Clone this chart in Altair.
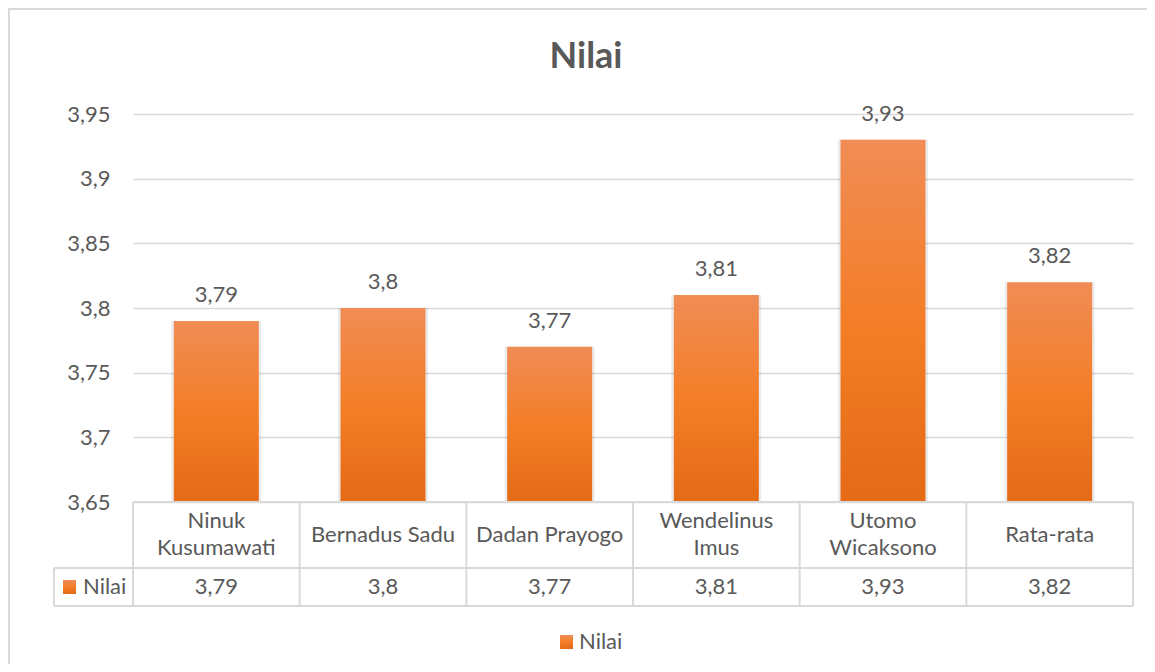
import altair as alt
import pandas as pd

categories = ["Ninuk Kusumawati", "Bernadus Sadu", "Dadan Prayogo",
              "Wendelinus Imus", "Utomo Wicaksono", "Rata-rata"]
category_lines = ["Ninuk\nKusumawati", "Bernadus Sadu", "Dadan Prayogo",
                  "Wendelinus\nImus", "Utomo\nWicaksono", "Rata-rata"]
values = [3.79, 3.8, 3.77, 3.81, 3.93, 3.82]
y_ticks = [3.65, 3.7, 3.75, 3.8, 3.85, 3.9, 3.95]
series_name = "Nilai"
title_text = "Nilai"

df = pd.DataFrame({
    "cat": categories,
    "label": category_lines,
    "value": values,
    "vlabel": [f"{v:g}".replace(".", ",") for v in values],
})
df["last"] = [i == len(categories) - 1 for i in range(len(categories))]
df["multi"] = ["\n" in s for s in category_lines]

FONT = "Lato"
TXT = "#595959"
GRID = "#D9D9D9"
W, H = 1000, 388
FS = 22

grad = alt.LinearGradient(
    gradient="linear", x1=0, x2=0, y1=0, y2=1,
    stops=[alt.GradientStop(color="#F08C55", offset=0),
           alt.GradientStop(color="#F47E28", offset=0.5),
           alt.GradientStop(color="#E46A16", offset=1)])

xs = alt.Scale(domain=categories, paddingInner=0, paddingOuter=0)
ys = alt.Scale(domain=[3.65, 3.95], zero=False, nice=False)

base = alt.Chart(df)

yaxis = alt.Axis(values=y_ticks, grid=True, gridColor=GRID, gridWidth=1.5,
                 ticks=False, domain=False, labelFont=FONT, labelFontSize=FS,
                 labelColor=TXT, labelPadding=23,
                 labelExpr="replace(format(datum.value, '.2~f'), '.', ',')",
                 title=None)

shadow = base.mark_bar(size=90, color="#000000", opacity=0.08).encode(
    x=alt.X("cat:N", scale=xs, axis=None, sort=categories),
    y=alt.Y("value:Q", scale=ys, axis=yaxis),
    y2=alt.datum(3.65),
)
bars = base.mark_bar(size=85, color=grad).encode(
    x=alt.X("cat:N", scale=xs, axis=None, sort=categories),
    y=alt.Y("value:Q", scale=ys, axis=yaxis),
    y2=alt.datum(3.65),
)
bar_labels = base.mark_text(font=FONT, fontSize=FS, color=TXT, baseline="bottom", dy=-14).encode(
    x=alt.X("cat:N", scale=xs, sort=categories),
    y=alt.Y("value:Q", scale=ys),
    text="vlabel:N",
)

# data table below the plot
tbl_line = dict(color=GRID, strokeWidth=2)
vlines = base.mark_rule(**tbl_line).encode(
    x=alt.X("cat:N", scale=xs, sort=categories, bandPosition=0),
    y=alt.value(388), y2=alt.value(492),
)
vline_end = base.transform_filter("datum.last").mark_rule(**tbl_line).encode(
    x=alt.X("cat:N", scale=xs, sort=categories, bandPosition=1),
    y=alt.value(388), y2=alt.value(492),
)
hlines = alt.Chart(pd.DataFrame({"y": [388, 454, 492], "x0": [0, -79, -79]})).mark_rule(**tbl_line).encode(
    x=alt.X("x0:Q", scale=None), x2=alt.value(W), y=alt.Y("y:Q", scale=None),
)
first_col = alt.Chart(pd.DataFrame({"x": [-79]})).mark_rule(**tbl_line).encode(
    x=alt.X("x:Q", scale=None), y=alt.value(454), y2=alt.value(492),
)
cat_text_single = base.transform_filter("!datum.multi").mark_text(
    font=FONT, fontSize=FS, color=TXT, baseline="middle").encode(
    x=alt.X("cat:N", scale=xs, sort=categories),
    y=alt.value(421),
    text="label:N",
)
cat_text_multi = base.transform_filter("datum.multi").mark_text(
    font=FONT, fontSize=FS, color=TXT, baseline="middle",
    lineBreak="\n", lineHeight=27).encode(
    x=alt.X("cat:N", scale=xs, sort=categories),
    y=alt.value(407),
    text="label:N",
)
val_text = base.mark_text(font=FONT, fontSize=FS, color=TXT, baseline="middle").encode(
    x=alt.X("cat:N", scale=xs, sort=categories),
    y=alt.value(473),
    text="vlabel:N",
)

leg = pd.DataFrame({"name": [series_name]})
tbl_key = alt.Chart(leg).mark_rect(color=grad).encode(
    x=alt.value(-70), x2=alt.value(-57), y=alt.value(466), y2=alt.value(480))
tbl_key_text = alt.Chart(leg).mark_text(font=FONT, fontSize=FS, color=TXT, align="left",
                                        baseline="middle").encode(
    x=alt.value(-50), y=alt.value(473), text="name:N")
leg_key = alt.Chart(leg).mark_rect(color=grad).encode(
    x=alt.value(427), x2=alt.value(440), y=alt.value(521), y2=alt.value(535))
leg_text = alt.Chart(leg).mark_text(font=FONT, fontSize=FS, color=TXT, align="left",
                                    baseline="middle").encode(
    x=alt.value(446), y=alt.value(528), text="name:N")

title = alt.Chart(pd.DataFrame({"t": [title_text]})).mark_text(
    font=FONT, fontSize=36, fontWeight="bold", color=TXT, baseline="middle").encode(
    x=alt.value(453), y=alt.value(-57), text="t:N")

border = alt.Chart(pd.DataFrame({"b": [1]})).mark_rect(
    fillOpacity=0, stroke=GRID, strokeWidth=2).encode(
    x=alt.value(-124), x2=alt.value(1040), y=alt.value(-105), y2=alt.value(580))

chart = alt.layer(
    border, shadow, bars, bar_labels, vlines, vline_end, hlines, first_col,
    cat_text_single, cat_text_multi, val_text, tbl_key, tbl_key_text,
    leg_key, leg_text, title,
).properties(
    width=W, height=H,
    autosize=alt.AutoSizeParams(type="none"),
    padding={"left": 125, "top": 106, "right": 14, "bottom": 162},
).configure(background="white").configure_view(stroke=None, strokeWidth=0)

chart.save("out.html", embed_options={"renderer": "svg", "actions": False})
